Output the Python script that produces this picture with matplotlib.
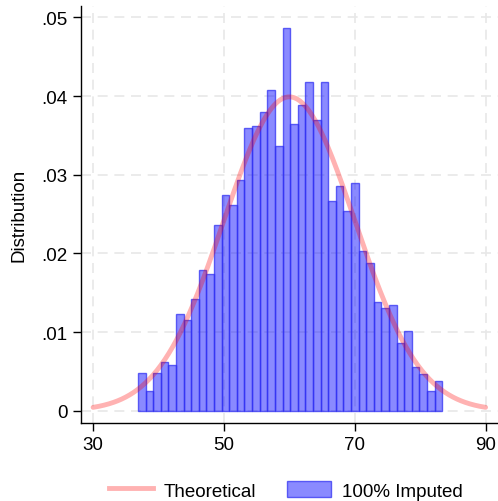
import numpy as np
import matplotlib.pyplot as plt
from matplotlib.patches import Patch
from matplotlib.lines import Line2D

plt.rcParams["font.family"] = ["Liberation Sans", "DejaVu Sans"]

# histogram of imputed values (density per bin)
bin_start = 36.87
bin_width = 1.1625
densities = [
    0.00477, 0.00255, 0.00485, 0.00621, 0.00579, 0.01233, 0.01157, 0.01421,
    0.01786, 0.01744, 0.02356, 0.02747, 0.02620, 0.02934, 0.03589, 0.03615,
    0.03801, 0.04074, 0.03367, 0.04865, 0.03640, 0.03887, 0.04180, 0.03691,
    0.04180, 0.02662, 0.02857, 0.02543, 0.02900, 0.02037, 0.01880, 0.01378,
    0.01310, 0.01344, 0.00867, 0.01013, 0.00554, 0.00468, 0.00255, 0.00375,
]

# theoretical normal
mu, sigma = 60, 10
x_range = (30, 90)

x_ticks = [30, 50, 70, 90]
y_ticks = [0, 0.01, 0.02, 0.03, 0.04, 0.05]
y_ticklabels = ["0", ".01", ".02", ".03", ".04", ".05"]

fs = 13.5
bar_face = (0, 0, 1, 0.46)
bar_edge = (0.2, 0.2, 0.95, 0.75)
curve_col = (1, 0, 0, 0.3)

fig = plt.figure(figsize=(4.98, 5.02), dpi=100)
ax = fig.add_axes([0.162, 0.155, 0.838, 0.832])

edges = bin_start + bin_width * np.arange(len(densities))
ax.bar(edges, densities, width=bin_width, align="edge",
       facecolor=bar_face, edgecolor=bar_edge, linewidth=1.0, zorder=2)

xs = np.linspace(x_range[0], x_range[1], 400)
pdf = np.exp(-0.5 * ((xs - mu) / sigma) ** 2) / (sigma * np.sqrt(2 * np.pi))
ax.plot(xs, pdf, color=curve_col, linewidth=3.5, zorder=3,
        solid_capstyle="round")

ax.set_xlim(28.1, 91.9)
ax.set_ylim(-0.00157, 0.0515)
ax.set_xticks(x_ticks)
ax.set_yticks(y_ticks)
ax.set_yticklabels(y_ticklabels)
ax.tick_params(axis="both", labelsize=fs, length=5.5, width=1, direction="out",
               pad=4)

ax.grid(True, color="#e8e8e8", linestyle=(0, (6, 4)), linewidth=1.2, zorder=0)
ax.set_axisbelow(True)

for side in ["top", "right"]:
    ax.spines[side].set_visible(False)
for side in ["left", "bottom"]:
    ax.spines[side].set_linewidth(1.0)

ax.set_ylabel("Distribution", fontsize=fs)
ax.yaxis.set_label_coords(-0.128, 0.5)

handles = [
    Line2D([0], [0], color=curve_col, linewidth=3.5),
    Patch(facecolor=bar_face, edgecolor=bar_edge),
]
fig.legend(handles, ["Theoretical", "100% Imputed"], loc="center",
           bbox_to_anchor=(0.574, 0.021), ncol=2, frameon=False, fontsize=fs,
           handlelength=2.35, handleheight=0.96, columnspacing=1.65,
           handletextpad=0.59, borderpad=0, borderaxespad=0)

fig.savefig("out.png", dpi=100)
